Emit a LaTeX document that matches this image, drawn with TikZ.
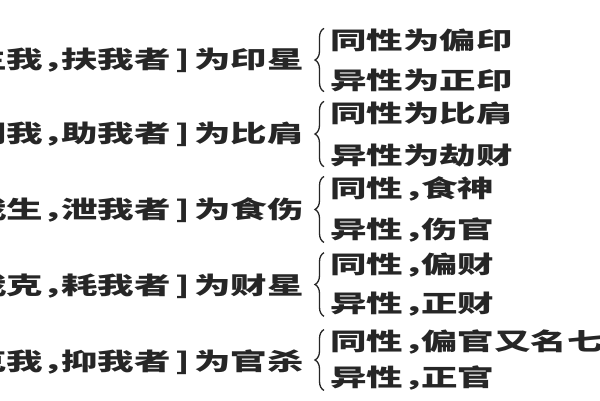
\documentclass[tikz,border=0pt]{standalone}
\usepackage{fontspec}
\newfontfamily\cjk{Noto Sans CJK SC}
\usetikzlibrary{decorations.pathreplacing}
\newcommand\wide[1]{\scalebox{1.52}[1]{\fontsize{24}{24}\selectfont\cjk\bfseries #1}}
\newcommand\hc{\makebox[0.5em][l]{，}}
\newcommand\rb{\makebox[0.65em][c]{]}}
\begin{document}
\begin{tikzpicture}[x=1pt,y=1pt,
    txt/.style={inner sep=0pt,text=black!85},
    curly/.style={draw=black!85,line width=1.3pt,decorate,decoration={brace,amplitude=9pt}}]
        \clip (0,0) rectangle (600,400);
        \fill[white] (0,0) rectangle (600,400);
        % left column
        \node[txt,anchor=east] (L1) at (304,340) {\wide{生我\hc 扶我者\rb 为印星}};
        \node[txt,anchor=east] (L2) at (304,266) {\wide{同我\hc 助我者\rb 为比肩}};
        \node[txt,anchor=east] (L3) at (304,190) {\wide{我生\hc 泄我者\rb 为食伤}};
        \node[txt,anchor=east] (L4) at (304,114) {\wide{我克\hc 耗我者\rb 为财星}};
        \node[txt,anchor=east] (L5) at (304,38) {\wide{克我\hc 抑我者\rb 为官杀}};
        % right column
        \node[txt,anchor=west] (A1) at (330,360) {\wide{同性为偏印}};
        \node[txt,anchor=west] (B1) at (330,320) {\wide{异性为正印}};
        \node[txt,anchor=west] (A2) at (330,287) {\wide{同性为比肩}};
        \node[txt,anchor=west] (B2) at (330,245) {\wide{异性为劫财}};
        \node[txt,anchor=west] (A3) at (330,211) {\wide{同性\hc 食神}};
        \node[txt,anchor=west] (B3) at (330,170) {\wide{异性\hc 伤官}};
        \node[txt,anchor=west] (A4) at (330,135) {\wide{同性\hc 偏财}};
        \node[txt,anchor=west] (B4) at (330,96) {\wide{异性\hc 正财}};
        \node[txt,anchor=west] (A5) at (330,58) {\wide{同性\hc 偏官又名七杀}};
        \node[txt,anchor=west] (B5) at (330,22) {\wide{异性\hc 正官}};
        % braces
        \draw[curly] ([xshift=-6pt]B1.south west) -- ([xshift=-6pt]A1.north west);
        \draw[curly] ([xshift=-6pt]B2.south west) -- ([xshift=-6pt]A2.north west);
        \draw[curly] ([xshift=-6pt]B3.south west) -- ([xshift=-6pt]A3.north west);
        \draw[curly] ([xshift=-6pt]B4.south west) -- ([xshift=-6pt]A4.north west);
        \draw[curly] ([xshift=-6pt]B5.south west) -- ([xshift=-6pt]A5.north west);
    \end{tikzpicture}
\end{document}
